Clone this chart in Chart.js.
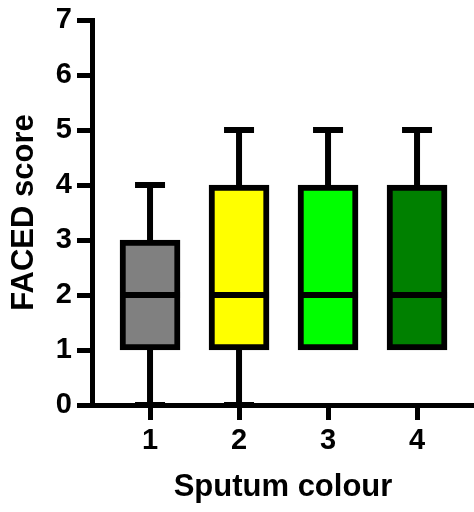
<!DOCTYPE html>
<html>
<head>
<meta charset="utf-8">
<script src="https://cdn.jsdelivr.net/npm/chart.js@4/dist/chart.umd.min.js"></script>
<style>
html, body { margin: 0; padding: 0; background: #fff; }
</style>
</head>
<body>
<canvas id="myChart" width="474" height="512"></canvas>
<script>
// sputum colour groups and FACED score box stats
var groups = [1, 2, 3, 4]
var mins = [0, 0, 1, 1]
var q1 = [1, 1, 1, 1]
var medians = [2, 2, 2, 2]
var q3 = [3, 4, 4, 4]
var maxs = [4, 5, 5, 5]
var boxColors = ['#808080', '#ffff00', '#00ff00', '#008000']
var yTicks = [0, 1, 2, 3, 4, 5, 6, 7]

var BOX_W = 60
var CAP_W = 30

var whiskers = {
    id: 'whiskers',
    afterDatasetsDraw: function(chart){
        var ctx = chart.ctx
        var xs = chart.scales.x
        var ys = chart.scales.y
        ctx.save()
        ctx.strokeStyle = '#000'
        ctx.lineWidth = 6
        ctx.lineCap = 'butt'
        groups.forEach(function(g, i){
            var x = xs.getPixelForValue(g)
            var top = ys.getPixelForValue(maxs[i])
            var bot = ys.getPixelForValue(mins[i])
            ctx.beginPath()
            if(maxs[i] > q3[i]){
                ctx.moveTo(x, ys.getPixelForValue(q3[i]))
                ctx.lineTo(x, top)
                ctx.moveTo(x - CAP_W/2, top)
                ctx.lineTo(x + CAP_W/2, top)
            }
            if(mins[i] < q1[i]){
                ctx.moveTo(x, ys.getPixelForValue(q1[i]))
                ctx.lineTo(x, bot)
                ctx.moveTo(x - CAP_W/2, bot)
                ctx.lineTo(x + CAP_W/2, bot)
            }
            var m = ys.getPixelForValue(medians[i])
            ctx.moveTo(x - BOX_W/2, m)
            ctx.lineTo(x + BOX_W/2, m)
            ctx.stroke()
        })
        ctx.restore()
    }
}

Chart.defaults.font.family = '"Liberation Sans", Arial, sans-serif'
Chart.defaults.font.weight = 'bold'
Chart.defaults.font.size = 29
Chart.defaults.color = '#000'

var ctx = document.getElementById('myChart').getContext('2d')
var myChart = new Chart(ctx, {
    type: 'bar',
    data: {
        datasets: [{
            data: groups.map(function(g, i){ return {x: g, y: [q1[i], q3[i]]} }),
            backgroundColor: boxColors,
            borderColor: '#000',
            borderWidth: 6,
            borderSkipped: false,
            barThickness: BOX_W
        }]
    },
    options: {
        responsive: false,
        animation: false,
        devicePixelRatio: 1,
        layout: { padding: { top: 20, right: 0, left: 0, bottom: 0 } },
        plugins: { legend: { display: false }, tooltip: { enabled: false } },
        scales: {
            x: {
                type: 'linear',
                offset: false,
                min: 0.348,
                max: 4.64,
                afterBuildTicks: function(scale){ scale.ticks = groups.map(function(v){ return {value: v} }) },
                afterFit: function(scale){ scale.height = 107 },
                border: { display: true, width: 5, color: '#000' },
                grid: { offset: false, drawOnChartArea: false, drawTicks: true, tickLength: 15, tickWidth: 5, tickColor: '#000', color: '#000' },
                ticks: { padding: 6, font: { size: 29, weight: 'bold', lineHeight: 1 } },
                title: { display: true, text: 'Sputum colour', font: { size: 31, weight: 'bold', lineHeight: 1 }, padding: { top: 0, bottom: 9 } }
            },
            y: {
                min: 0,
                max: 7,
                afterBuildTicks: function(scale){ scale.ticks = yTicks.map(function(v){ return {value: v} }) },
                afterFit: function(scale){ scale.width = 92 },
                border: { display: true, width: 5, color: '#000' },
                grid: { drawOnChartArea: false, drawTicks: true, tickLength: 15, tickWidth: 5, tickColor: '#000', color: '#000' },
                ticks: { padding: 5, font: { size: 29, weight: 'bold', lineHeight: 1 } },
                title: { display: true, text: 'FACED score', font: { size: 31, weight: 'bold', lineHeight: 1 }, padding: { top: 9, bottom: 0 } }
            }
        }
    },
    plugins: [whiskers]
})
</script>
</body>
</html>
